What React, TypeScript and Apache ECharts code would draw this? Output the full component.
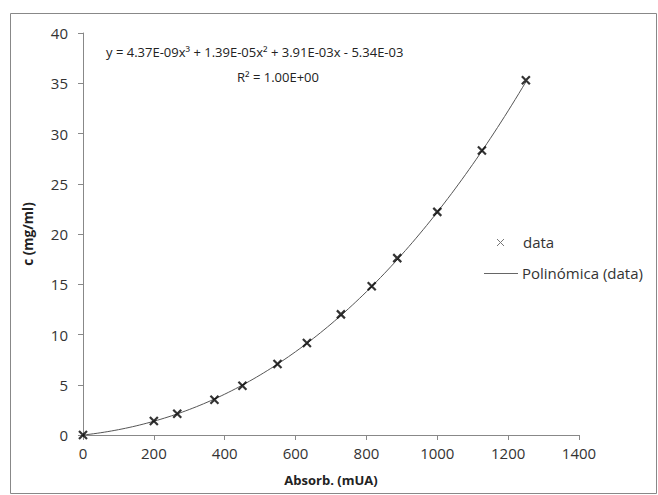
import React, { useEffect, useRef } from "react";
import * as echarts from "echarts";

const absorb = [0, 200, 266, 371, 450, 549, 632, 728, 815, 887, 1000, 1126, 1250];
const conc = [0, 1.39, 2.12, 3.5, 4.9, 7.06, 9.15, 12.0, 14.8, 17.6, 22.2, 28.3, 35.3];
// cubic trendline coefficients shown on the chart: a3, a2, a1, a0
const trendCoef = [4.37e-9, 1.39e-5, 3.91e-3, -5.34e-3];
const equationText = "y = 4.37E-09x³ + 1.39E-05x² + 3.91E-03x - 5.34E-03";
const r2Text = "R² = 1.00E+00";
const seriesNames = ["data", "Polinómica (data)"];
const xTitle = "Absorb. (mUA)";
const yTitle = "c (mg/ml)";

const FONT = "'Open Sans', sans-serif";

export default function App() {
  const ref = useRef<HTMLDivElement>(null);
  useEffect(() => {
    if (!ref.current) return;
    const chart = echarts.init(ref.current, undefined, { renderer: "svg" });
    const xMin = absorb[0];
    const xMax = absorb[absorb.length - 1];
    const trend: number[][] = [];
    for (let x = xMin; x <= xMax; x += 10) {
      const [a3, a2, a1, a0] = trendCoef;
      trend.push([x, a3 * x * x * x + a2 * x * x + a1 * x + a0]);
    }
    const xMark = "path://M0,0L10,10M10,0L0,10";
    chart.setOption({
      animation: false,
      backgroundColor: "#ffffff",
      grid: { left: 83, right: 79, top: 33, bottom: 60, containLabel: false },
      xAxis: {
        type: "value",
        min: 0,
        max: 1400,
        interval: 200,
        name: xTitle,
        nameLocation: "middle",
        nameGap: 38,
        nameTextStyle: { fontFamily: FONT, fontWeight: "bold", fontSize: 13, color: "#222" },
        axisLine: { show: true, lineStyle: { color: "#888", width: 1 } },
        axisTick: { show: true, inside: false, length: 5, lineStyle: { color: "#888" } },
        axisLabel: { fontFamily: FONT, fontSize: 15, color: "#333", margin: 10, formatter: (v: number) => String(v) },
        splitLine: { show: false },
      },
      yAxis: {
        type: "value",
        min: 0,
        max: 40,
        interval: 5,
        name: yTitle,
        nameLocation: "middle",
        nameGap: 48,
        nameRotate: 90,
        nameTextStyle: { fontFamily: FONT, fontWeight: "bold", fontSize: 13.5, color: "#222" },
        axisLine: { show: true, lineStyle: { color: "#888", width: 1 } },
        axisTick: { show: true, inside: false, length: 5, lineStyle: { color: "#888" } },
        axisLabel: { fontFamily: FONT, fontSize: 15, color: "#333", margin: 15, formatter: (v: number) => String(v) },
        splitLine: { show: false },
      },
      series: [
        {
          name: seriesNames[1],
          type: "line",
          data: trend,
          showSymbol: false,
          symbol: "none",
          smooth: false,
          lineStyle: { color: "#555", width: 1 },
          z: 1,
        },
        {
          name: seriesNames[0],
          type: "scatter",
          data: absorb.map((x, i) => [x, conc[i]]),
          symbol: xMark,
          symbolSize: 8,
          itemStyle: { color: "rgba(0,0,0,0)", borderColor: "#000", borderWidth: 2.2 },
          z: 3,
        },
      ],
      graphic: [
        {
          type: "rect",
          shape: { x: 10.5, y: 13.5, width: 646, height: 480 },
          style: { fill: "none", stroke: "#888", lineWidth: 1 },
          silent: true,
        },
        {
          type: "text",
          x: 106,
          y: 52,
          style: { text: equationText, fontFamily: FONT, fontSize: 13, fill: "#222", textVerticalAlign: "middle" },
        },
        {
          type: "text",
          x: 237,
          y: 77,
          style: { text: r2Text, fontFamily: FONT, fontSize: 13, fill: "#222", textVerticalAlign: "middle" },
        },
        {
          type: "line",
          shape: { x1: 497, y1: 239, x2: 504, y2: 246 },
          style: { stroke: "#777", lineWidth: 1 },
        },
        {
          type: "line",
          shape: { x1: 504, y1: 239, x2: 497, y2: 246 },
          style: { stroke: "#777", lineWidth: 1 },
        },
        {
          type: "text",
          x: 523,
          y: 242,
          style: { text: seriesNames[0], fontFamily: FONT, fontSize: 15, fill: "#333", textVerticalAlign: "middle" },
        },
        {
          type: "line",
          shape: { x1: 484, y1: 273.5, x2: 518, y2: 273.5 },
          style: { stroke: "#666", lineWidth: 1 },
        },
        {
          type: "text",
          x: 522,
          y: 273,
          style: { text: seriesNames[1], fontFamily: FONT, fontSize: 15, fill: "#333", textVerticalAlign: "middle" },
        },
      ],
    });
    return () => chart.dispose();
  }, []);
  return (
    <div
      ref={ref}
      style={{ position: "fixed", left: 0, top: 0, width: 658, height: 495 }}
    />
  );
}
